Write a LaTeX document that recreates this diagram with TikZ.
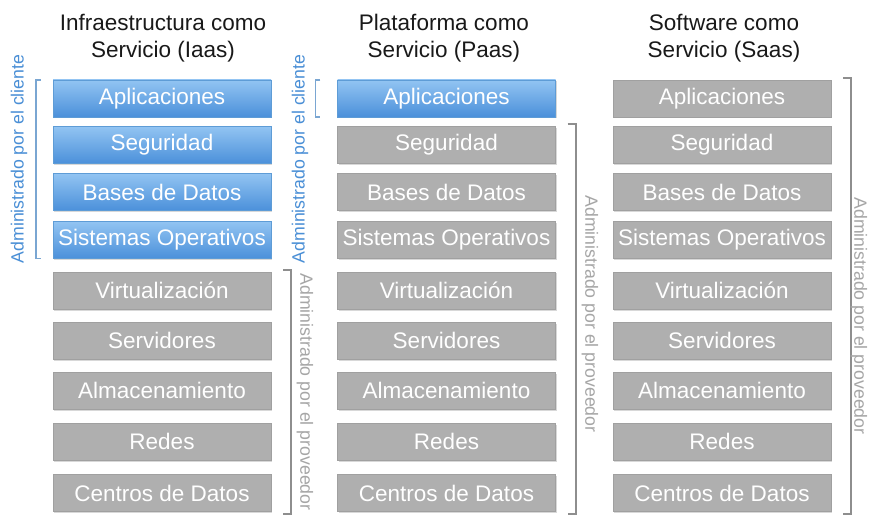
\documentclass[tikz,border=0pt]{standalone}
\usepackage{fontspec}
\setmainfont{Liberation Sans}
\usetikzlibrary{shadows, calc}

\definecolor{cliTop}{HTML}{92C4F2}
\definecolor{cliBot}{HTML}{4B90DA}
\definecolor{cliLine}{HTML}{5E9CD6}
\definecolor{cliText}{HTML}{4A8FD6}
\definecolor{cliBrace}{HTML}{7AA6D2}
\definecolor{provFill}{HTML}{AFAFAF}
\definecolor{provLine}{HTML}{A0A0A0}
\definecolor{provText}{HTML}{A6A6A6}
\definecolor{provBrace}{HTML}{8E8E8E}

\tikzset{
  capa/.style={minimum width=218pt, minimum height=37pt, inner sep=0pt, text=white,
    font=\fontsize{22.5}{27}\selectfont,
    drop shadow={shadow xshift=1pt, shadow yshift=-1.5pt, opacity=.3}},
  cliente/.style={capa, top color=cliTop, bottom color=cliBot, draw=cliLine},
  proveedor/.style={capa, fill=provFill, draw=provLine},
  titulo/.style={align=center, text=black!90, font=\fontsize{22.5}{27}\selectfont},
  lado/.style={font=\fontsize{17.7}{20}\selectfont, inner sep=0pt},
  llavecli/.style={draw=cliBrace, line width=1.6pt},
  llaveprov/.style={draw=provBrace, line width=1.6pt}
}

\begin{document}
\begin{tikzpicture}[x=1pt,y=-1pt]
		\fill[white] (0,0) rectangle (869,518);
		\useasboundingbox (0,0) rectangle (869,518);
		% column headings
		\node[titulo] (tIaas) at (163,38) {Infraestructura como\\Servicio (Iaas)};
		\node[titulo] (tPaas) at (444,38) {Plataforma como\\Servicio (Paas)};
		\node[titulo] (tSaas) at (724,38) {Software como\\Servicio (Saas)};
		% the nine layers of each stack
		\foreach \y/\capa/\estI/\estP [count=\n] in {
			98.5/Aplicaciones/cliente/cliente,
			145/Seguridad/cliente/proveedor,
			192/Bases de Datos/cliente/proveedor,
			240/Sistemas Operativos/cliente/proveedor,
			290.5/Virtualización/proveedor/proveedor,
			340.5/Servidores/proveedor/proveedor,
			390.5/Almacenamiento/proveedor/proveedor,
			441.5/Redes/proveedor/proveedor,
			493/Centros de Datos/proveedor/proveedor}{
			\node[\estI] (i\n) at (162,\y) {\capa};
			\node[\estP] (p\n) at (446.5,\y) {\capa};
			\node[proveedor] (s\n) at (722,\y) {\capa};
		}
		% brackets: managed by the customer
		\draw[llavecli] ([xshift=-12pt]i1.north west) -- ++(-5,0) |- ([xshift=-12pt]i4.south west);
		\draw[llavecli] ([xshift=-17pt]p1.north west) -- ++(-5,0) |- ([xshift=-17pt]p1.south west);
		% brackets: managed by the provider
		\draw[llaveprov] ([xshift=12pt,yshift=2pt]i5.north east) -- ++(8,0) |- ([xshift=12pt,yshift=-2pt]i9.south east);
		\draw[llaveprov] ([xshift=12pt,yshift=2pt]p2.north east) -- ++(8,0) |- ([xshift=12pt,yshift=-2pt]p9.south east);
		\draw[llaveprov] ([xshift=12pt,yshift=2pt]s1.north east) -- ++(8,0) |- ([xshift=12pt,yshift=-2pt]s9.south east);
		% side labels
		\node[lado, text=cliText, rotate=90] (cliI) at (19,159) {Administrado por el cliente};
		\node[lado, text=cliText, rotate=90] (cliP) at (300,159) {Administrado por el cliente};
		\node[lado, text=provText, rotate=-90] (provI) at (305,392) {Administrado por el proveedor};
		\node[lado, text=provText, rotate=-90] (provP) at (590,314) {Administrado por el proveedor};
		\node[lado, text=provText, rotate=-90] (provS) at (859,316) {Administrado por el proveedor};
	\end{tikzpicture}
\end{document}
